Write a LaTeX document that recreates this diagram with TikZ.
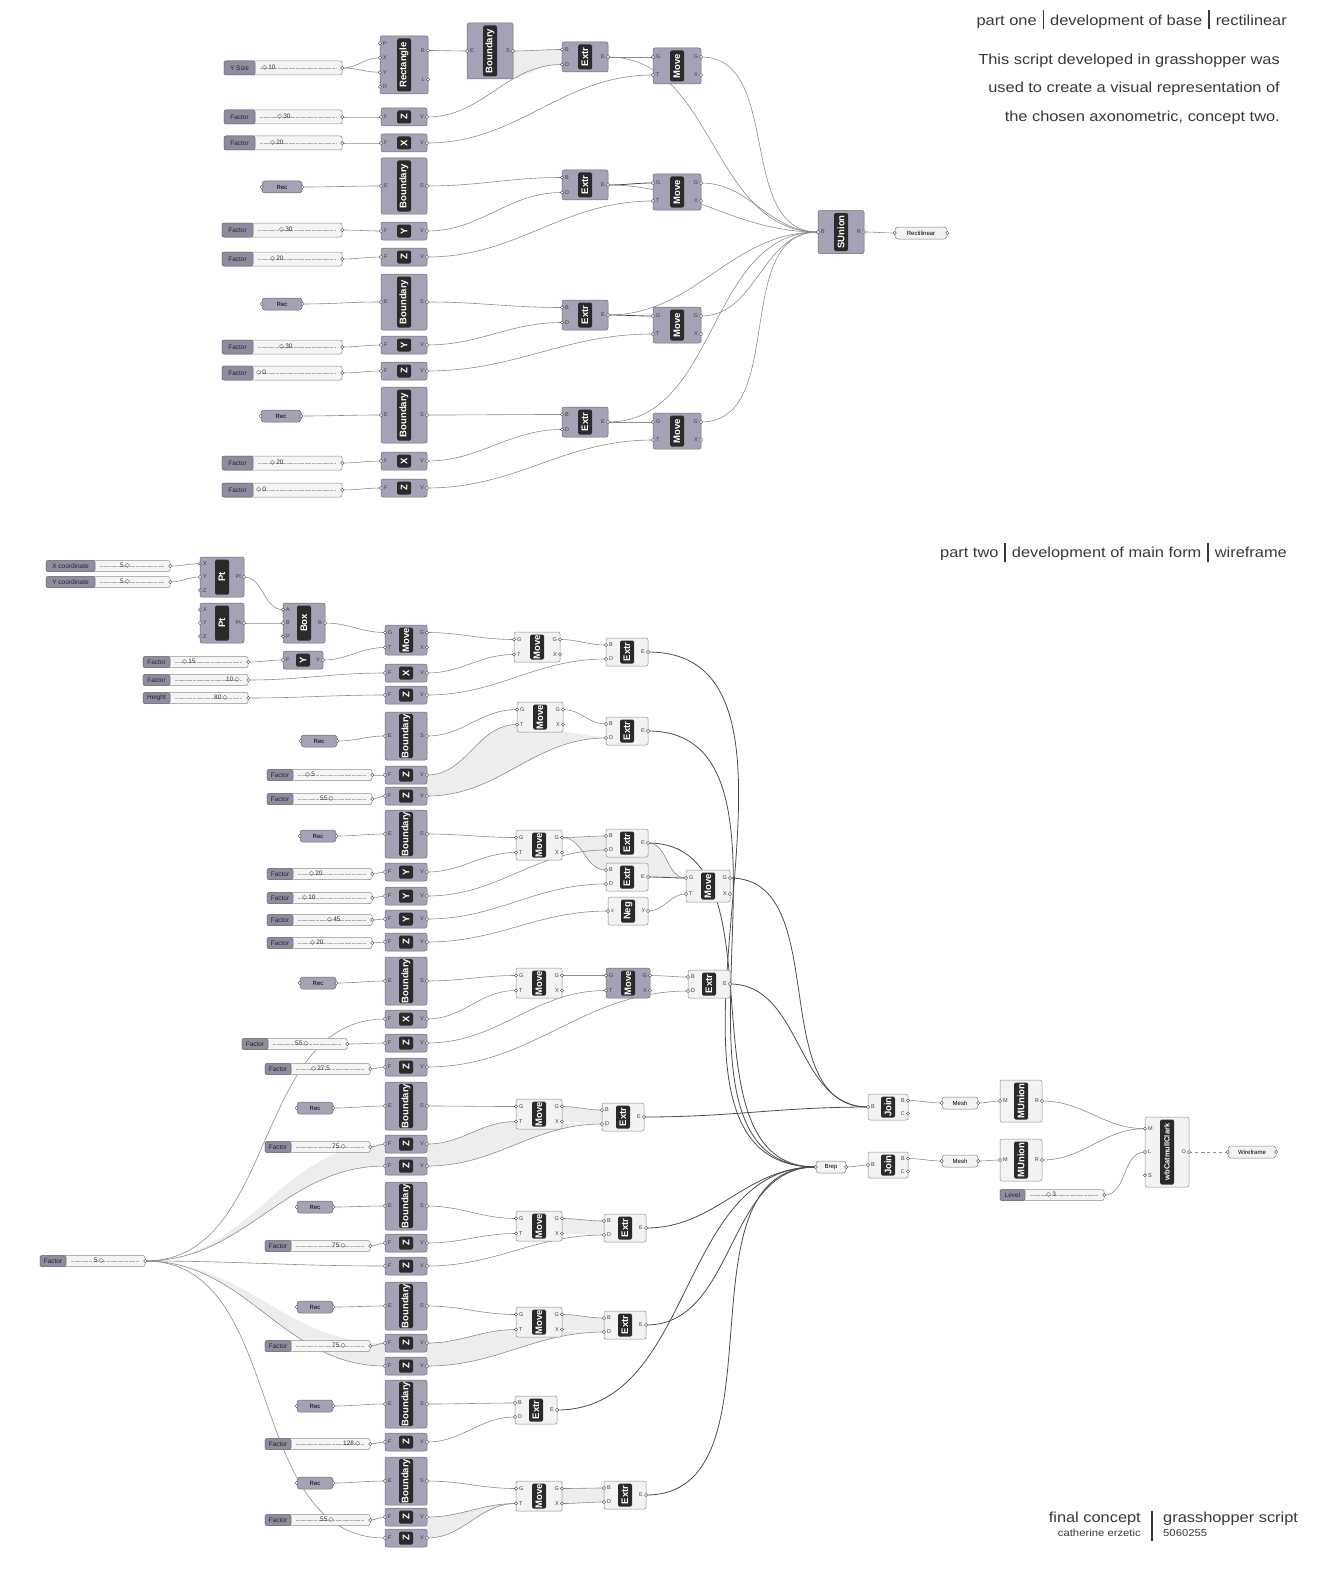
\documentclass[tikz,border=0pt]{standalone}
\usepackage{fontspec}
\setmainfont{Liberation Sans}
\newfontfamily\symfont{DejaVu Sans}
\newfontfamily\hdrfont[FakeStretch=1.13]{Liberation Sans}
\usetikzlibrary{calc}

\definecolor{ghgray}{HTML}{A4A2B4}
\definecolor{ghedge}{HTML}{6C6A78}
\definecolor{ghlbl}{HTML}{8E8C9E}
\definecolor{ghcore}{HTML}{2A2A2A}
\definecolor{ghwhite}{HTML}{F3F3F3}
\definecolor{ghwire}{HTML}{8C8C8C}
\definecolor{hdrtext}{HTML}{383838}

\pgfdeclarelayer{bg}
\pgfsetlayers{bg,main}

\newcommand{\dm}{{\symfont\char"25C7}}
\newcommand{\vbar}{\rule[-4pt]{1.5pt}{19pt}}

% component: [style]{name}{x}{y}{w}{h}{label}{inputs}{outputs}
\newcommand{\ghcomp}[9][body]{%
  \node[#1, minimum width=#5, minimum height=#6] (#2) at (#3,#4) {};
  \node[core, minimum height=#6-5] at (#2.center) {\rotatebox{90}{#7}};
  \foreach \p [count=\k] in {#8} {\xdef\ghn{\k}}
  \foreach \p [count=\k] in {#8} {
    \pgfmathsetmacro{\py}{#4-#6/2+(\k-0.5)*#6/\ghn}
    \coordinate (#2-i\k) at ({#3-#5/2},\py);
    \node[pletter, anchor=west] at ({#3-#5/2+3},\py) {\p};
    \node[port] at (#2-i\k) {};
  }
  \foreach \p [count=\k] in {#9} {\xdef\ghn{\k}}
  \foreach \p [count=\k] in {#9} {
    \pgfmathsetmacro{\py}{#4-#6/2+(\k-0.5)*#6/\ghn}
    \coordinate (#2-o\k) at ({#3+#5/2},\py);
    \node[pletter, anchor=east] at ({#3+#5/2-3},\py) {\p};
    \node[port] at (#2-o\k) {};
  }
}

% slider: {name}{x left}{x right}{y}{label}{x label end}{x value}{value}{height}
\newcommand{\ghslider}[9]{%
  \node[sliderbox, minimum width=#3-#2, minimum height=#9] (#1) at ({(#2+#3)/2},#4) {};
  \node[sliderlbl, minimum width=#6-#2, minimum height=#9, anchor=west] at (#1.west) {#5};
  \draw[ticks] ({#6+5},#4) -- ({#3-6},#4);
  \node[sliderval, anchor=west] at (#7,#4) {#8};
  \node[port] at (#1.east) {};
}

% parameter: [style]{name}{x}{y}{w}{text}
\newcommand{\ghparam}[6][param]{%
  \node[#1, minimum width=#5] (#2) at (#3,#4) {#6};
  \node[port] at (#2.west) {};
  \node[port] at (#2.east) {};
}

\begin{document}
\begin{tikzpicture}[x=1pt, y=-1pt,
  body/.style={draw=ghedge, fill=ghgray, rounded corners=2pt, line width=0.5pt, inner sep=0},
  wbody/.style={draw=black!45, fill=ghwhite, rounded corners=2pt, line width=0.5pt, inner sep=0},
  core/.style={fill=ghcore, rounded corners=1.5pt, minimum width=14, inner sep=0,
    text=white, font=\fontsize{9.5}{9.5}\selectfont\bfseries},
  pletter/.style={font=\fontsize{5.5}{6}\selectfont, text=black!75, inner sep=0},
  port/.style={circle, draw=black!75, fill=white, inner sep=0, minimum size=3.2, line width=0.4pt},
  sliderbox/.style={draw=black!45, fill=white!96!black, rounded corners=2pt, inner sep=0, line width=0.5pt},
  sliderlbl/.style={draw=ghedge, fill=ghlbl, rounded corners=2pt, inner sep=0, line width=0.5pt,
    font=\fontsize{6.5}{7}\selectfont, text=black!85},
  sliderval/.style={inner sep=0, font=\fontsize{6.5}{7}\selectfont, text=black!80},
  ticks/.style={draw=black!30, line width=0.3pt, dash pattern=on 3pt off 0.6pt},
  param/.style={draw=ghedge, fill=ghgray, rounded corners=3pt, minimum height=12, inner sep=0,
    font=\fontsize{6}{6}\selectfont, line width=0.5pt},
  wparam/.style={param, draw=black!50, fill=ghwhite},
  wire/.style={draw=ghwire, line width=0.6pt, out=0, in=180},
  wired/.style={wire, draw=black!70, line width=0.8pt},
  gfill/.style={fill=black!7},
  hdr/.style={inner sep=0, text=hdrtext, font=\hdrfont\fontsize{14.5}{16}\selectfont}
]
\useasboundingbox (0,0) rectangle (1323,1573);

% headers
\node[hdr, anchor=east] (hone) at (1287,20) {part one\hspace{6pt}\vbar\hspace{6pt}development of base\hspace{6pt}\vbar\hspace{6pt}rectilinear};
\node[hdr, anchor=east, align=right, font=\hdrfont\fontsize{14.5}{28.5}\selectfont] (intro) at (1280,89)
  {This script developed in grasshopper was\\used to create a visual representation of\\the chosen axonometric, concept two.};
\node[hdr, anchor=east] (htwo) at (1287,552) {part two\hspace{6pt}\vbar\hspace{6pt}development of main form\hspace{6pt}\vbar\hspace{6pt}wireframe};
\node[hdr, anchor=east] (fin) at (1141,1519) {final concept};
\node[hdr, anchor=east, font=\hdrfont\fontsize{10}{10}\selectfont] (auth) at (1141,1533) {catherine erzetic};
\draw[hdrtext, line width=1.2pt] (1152,1511) -- (1152,1541);
\node[hdr, anchor=west] (ghs) at (1163,1519) {grasshopper script};
\node[hdr, anchor=west, font=\hdrfont\fontsize{10}{10}\selectfont] (sid) at (1163,1533) {5060255};

% ---------------- part one ----------------
\ghslider{ysize}{224}{342}{68}{Y Size}{255}{262}{\dm\,10}{14}
\ghslider{fa1}{224}{342}{117}{Factor}{255}{277}{\dm\,30}{14}
\ghslider{fa2}{224}{342}{143}{Factor}{255}{270}{\dm\,20}{14}
\ghslider{fa3}{222}{342}{230}{Factor}{253}{279}{\dm\,30}{14}
\ghslider{fa4}{222}{342}{259}{Factor}{253}{270}{\dm\,20}{14}
\ghslider{fa5}{222}{342}{347}{Factor}{253}{279}{\dm\,30}{14}
\ghslider{fa6}{222}{342}{373}{Factor}{253}{256}{\dm\,0}{14}
\ghslider{fa7}{222}{342}{463}{Factor}{253}{270}{\dm\,20}{14}
\ghslider{fa8}{222}{342}{490}{Factor}{253}{256}{\dm\,0}{14}

\ghparam{rec1}{282}{187}{40}{Rec}
\ghparam{rec2}{282}{304}{40}{Rec}
\ghparam{rec3}{281}{416}{40}{Rec}

\ghcomp{rect}{404}{65}{48}{58}{Rectangle}{P,X,Y,R}{R,L}
\ghcomp{bnd0}{490}{51}{46}{56}{Boundary}{E}{S}
\ghcomp{za}{404}{117}{46}{18}{Z}{F}{V}
\ghcomp{xa}{404}{143}{46}{18}{X}{F}{V}
\ghcomp{bnd1}{404}{186}{46}{56}{Boundary}{E}{S}
\ghcomp{yb}{404}{231}{46}{18}{Y}{F}{V}
\ghcomp{zb}{404}{257}{46}{18}{Z}{F}{V}
\ghcomp{bnd2}{404}{302}{46}{56}{Boundary}{E}{S}
\ghcomp{yc}{404}{345}{46}{18}{Y}{F}{V}
\ghcomp{zc}{404}{371}{46}{18}{Z}{F}{V}
\ghcomp{bnd3}{404}{415}{46}{56}{Boundary}{E}{S}
\ghcomp{xd}{404}{461}{46}{18}{X}{F}{V}
\ghcomp{zd}{404}{488}{46}{18}{Z}{F}{V}

\ghcomp{ext1}{585}{57}{46}{30}{Extr}{B,D}{E}
\ghcomp{ext2}{585}{185}{46}{30}{Extr}{B,D}{E}
\ghcomp{ext3}{585}{315}{46}{30}{Extr}{B,D}{E}
\ghcomp{ext4}{585}{422}{46}{30}{Extr}{B,D}{E}
\ghcomp{mv1}{677}{66}{48}{36}{Move}{G,T}{G,X}
\ghcomp{mv2}{677}{192}{48}{36}{Move}{G,T}{G,X}
\ghcomp{mv3}{677}{325}{48}{36}{Move}{G,T}{G,X}
\ghcomp{mv4}{677}{431}{48}{36}{Move}{G,T}{G,X}
\ghcomp{sun}{841}{232}{46}{43}{SUnion}{B}{R}
\ghparam[wparam]{rlin}{921}{233}{52}{Rectilinear}

\begin{pgfonlayer}{bg}
\fill[gfill] (bnd0-o1) to[out=0,in=180] (ext1-i1) -- (ext1-i2)
  .. controls (545,64) and (530,74) .. (bnd0.south east) -- cycle;
\draw[wire] (ysize.east) to (rect-i2);
\draw[wire] (ysize.east) to (rect-i3);
\draw[wire] (rect-o1) to (bnd0-i1);
\draw[wire] (bnd0-o1) to (ext1-i1);
\draw[wire] (fa1.east) to (za-i1);
\draw[wire] (fa2.east) to (xa-i1);
\draw[wire] (za-o1) to (ext1-i2);
\draw[wire] (xa-o1) to (mv1-i2);
\draw[wired] (ext1-o1) to (mv1-i1);
\draw[wire] (rec1.east) to (bnd1-i1);
\draw[wire] (bnd1-o1) to (ext2-i1);
\draw[wire] (fa3.east) to (yb-i1);
\draw[wire] (fa4.east) to (zb-i1);
\draw[wire] (yb-o1) to (ext2-i2);
\draw[wire] (zb-o1) to (mv2-i2);
\draw[wired] (ext2-o1) to (mv2-i1);
\draw[wire] (rec2.east) to (bnd2-i1);
\draw[wire] (bnd2-o1) to (ext3-i1);
\draw[wire] (fa5.east) to (yc-i1);
\draw[wire] (fa6.east) to (zc-i1);
\draw[wire] (yc-o1) to (ext3-i2);
\draw[wire] (zc-o1) to (mv3-i2);
\draw[wired] (ext3-o1) to (mv3-i1);
\draw[wire] (rec3.east) to (bnd3-i1);
\draw[wire] (bnd3-o1) to (ext4-i1);
\draw[wire] (fa7.east) to (xd-i1);
\draw[wire] (fa8.east) to (zd-i1);
\draw[wire] (xd-o1) to (ext4-i2);
\draw[wire] (zd-o1) to (mv4-i2);
\draw[wired] (ext4-o1) to (mv4-i1);
\foreach \m in {mv1,mv2,mv3,mv4,ext1,ext2,ext3,ext4}
  \draw[wire] (\m-o1) to (sun-i1);
\draw[wire] (sun-o1) to (rlin.west);
\end{pgfonlayer}

% ---------------- part two ----------------
\ghslider{xco}{46}{170}{566}{X coordinate}{95}{120}{5\,\dm}{11}
\ghslider{yco}{46}{170}{582}{Y coordinate}{95}{120}{5\,\dm}{11}
\ghslider{f15}{143}{248}{662}{Factor}{170}{182}{\dm\,15}{11}
\ghslider{f10}{143}{248}{680}{Factor}{170}{226}{10\,\dm}{11}
\ghslider{hgt}{143}{248}{698}{Height}{170}{214}{80\,\dm}{11}
\ghslider{fz1}{267}{372}{775}{Factor}{293}{305}{\dm\,5}{11}
\ghslider{fz2}{267}{372}{799}{Factor}{293}{320}{55\,\dm}{11}
\ghslider{fz3}{267}{372}{874}{Factor}{293}{309}{\dm\,20}{11}
\ghslider{fz4}{267}{372}{898}{Factor}{293}{302}{\dm\,10}{11}
\ghslider{fz5}{267}{372}{920}{Factor}{293}{327}{\dm\,45}{11}
\ghslider{fz6}{267}{372}{943}{Factor}{293}{310}{\dm\,20}{11}
\ghslider{f55a}{242}{347}{1044}{Factor}{268}{295}{55\,\dm}{11}
\ghslider{f275}{265}{370}{1069}{Factor}{291}{311}{\dm\,27.5}{11}
\ghslider{f75a}{265}{370}{1147}{Factor}{291}{332}{75\,\dm}{11}
\ghslider{f75b}{265}{370}{1246}{Factor}{291}{332}{75\,\dm}{11}
\ghslider{f5}{40}{145}{1261}{Factor}{66}{94}{5\,\dm}{11}
\ghslider{f75c}{265}{370}{1346}{Factor}{291}{332}{75\,\dm}{11}
\ghslider{f128}{265}{370}{1444}{Factor}{291}{343}{128\,\dm}{11}
\ghslider{f55b}{265}{370}{1520}{Factor}{291}{320}{55\,\dm}{11}
\ghslider{lvl}{1000}{1104}{1195}{Level}{1025}{1046}{\dm\,3}{11}

\ghparam{r1}{319}{741}{36}{Rec}
\ghparam{r2}{318}{836}{36}{Rec}
\ghparam{r3}{318}{983}{36}{Rec}
\ghparam{r4}{315}{1108}{36}{Rec}
\ghparam{r5}{315}{1207}{36}{Rec}
\ghparam{r6}{315}{1307}{36}{Rec}
\ghparam{r7}{315}{1406}{36}{Rec}
\ghparam{r8}{315}{1483}{36}{Rec}

\ghcomp{pt1}{222}{577}{44}{40}{Pt}{X,Y,Z}{Pt}
\ghcomp{pt2}{222}{623}{44}{40}{Pt}{X,Y,Z}{Pt}
\ghcomp{box}{304}{623}{42}{40}{Box}{A,B,P}{B}
\ghcomp{yy1}{303}{660}{40}{18}{Y}{F}{V}
\ghcomp{mva}{406}{640}{42}{30}{Move}{G,T}{G,X}
\ghcomp{xx1}{406}{673}{42}{18}{X}{F}{V}
\ghcomp{zz1}{406}{695}{42}{18}{Z}{F}{V}
\ghcomp{bd1}{406}{736}{42}{48}{Boundary}{E}{S}
\ghcomp{zz2}{406}{775}{42}{18}{Z}{F}{V}
\ghcomp{zz3}{406}{796}{42}{18}{Z}{F}{V}
\ghcomp{bd2}{406}{834}{42}{48}{Boundary}{E}{S}
\ghcomp{yy2}{406}{872}{42}{18}{Y}{F}{V}
\ghcomp{yy3}{406}{896}{42}{18}{Y}{F}{V}
\ghcomp{yy4}{406}{919}{42}{18}{Y}{F}{V}
\ghcomp{zz4}{406}{942}{42}{18}{Z}{F}{V}
\ghcomp{bd3}{406}{981}{42}{48}{Boundary}{E}{S}
\ghcomp{xx2}{406}{1019}{42}{18}{X}{F}{V}
\ghcomp{zz5}{406}{1043}{42}{18}{Z}{F}{V}
\ghcomp{zz6}{406}{1067}{42}{18}{Z}{F}{V}
\ghcomp{bd4}{406}{1106}{42}{48}{Boundary}{E}{S}
\ghcomp{zz7}{406}{1144}{42}{18}{Z}{F}{V}
\ghcomp{zz8}{406}{1166}{42}{18}{Z}{F}{V}
\ghcomp{bd5}{406}{1206}{42}{48}{Boundary}{E}{S}
\ghcomp{zz9}{406}{1243}{42}{18}{Z}{F}{V}
\ghcomp{zz10}{406}{1266}{42}{18}{Z}{F}{V}
\ghcomp{bd6}{406}{1306}{42}{48}{Boundary}{E}{S}
\ghcomp{zz11}{406}{1343}{42}{18}{Z}{F}{V}
\ghcomp{zz12}{406}{1366}{42}{18}{Z}{F}{V}
\ghcomp{bd7}{406}{1404}{42}{48}{Boundary}{E}{S}
\ghcomp{zz13}{406}{1442}{42}{18}{Z}{F}{V}
\ghcomp{bd8}{406}{1481}{42}{48}{Boundary}{E}{S}
\ghcomp{zz14}{406}{1517}{42}{18}{Z}{F}{V}
\ghcomp{zz15}{406}{1538}{42}{18}{Z}{F}{V}

\ghcomp[wbody]{mw1}{537}{647}{46}{30}{Move}{G,T}{G,X}
\ghcomp[wbody]{ew1}{627}{652}{42}{28}{Extr}{B,D}{E}
\ghcomp[wbody]{mw2}{540}{717}{46}{30}{Move}{G,T}{G,X}
\ghcomp[wbody]{ew2}{627}{731}{42}{28}{Extr}{B,D}{E}
\ghcomp[wbody]{mw3}{539}{845}{46}{30}{Move}{G,T}{G,X}
\ghcomp[wbody]{ew3}{627}{843}{42}{28}{Extr}{B,D}{E}
\ghcomp[wbody]{ew4}{627}{877}{42}{28}{Extr}{B,D}{E}
\ghcomp[wbody]{neg}{628}{911}{40}{28}{Neg}{x}{y}
\ghcomp[wbody]{mw4}{708}{886}{44}{32}{Move}{G,T}{G,X}
\ghcomp[wbody]{mw5}{539}{983}{46}{30}{Move}{G,T}{G,X}
\ghcomp{mg6}{628}{983}{44}{30}{Move}{G,T}{G,X}
\ghcomp[wbody]{ew5}{709}{984}{42}{28}{Extr}{B,D}{E}
\ghcomp[wbody]{mw7}{539}{1114}{46}{30}{Move}{G,T}{G,X}
\ghcomp[wbody]{ew6}{623}{1117}{42}{28}{Extr}{B,D}{E}
\ghcomp[wbody]{mw8}{539}{1226}{46}{30}{Move}{G,T}{G,X}
\ghcomp[wbody]{ew7}{625}{1228}{42}{28}{Extr}{B,D}{E}
\ghcomp[wbody]{mw9}{539}{1322}{46}{30}{Move}{G,T}{G,X}
\ghcomp[wbody]{ew8}{625}{1325}{42}{28}{Extr}{B,D}{E}
\ghcomp[wbody]{ew9}{536}{1410}{42}{28}{Extr}{B,D}{E}
\ghcomp[wbody]{mw10}{539}{1496}{46}{30}{Move}{G,T}{G,X}
\ghcomp[wbody]{ew10}{625}{1495}{42}{28}{Extr}{B,D}{E}

\ghparam[wparam]{brep}{831}{1167}{30}{Brep}
\ghcomp[wbody]{join1}{888}{1107}{40}{26}{Join}{B}{B,C}
\ghcomp[wbody]{join2}{888}{1165}{40}{26}{Join}{B}{B,C}
\ghparam[wparam]{mesh1}{960}{1103}{36}{Mesh}
\ghparam[wparam]{mesh2}{960}{1161}{36}{Mesh}
\ghcomp[wbody]{mun1}{1021}{1101}{42}{42}{MUnion}{M}{R}
\ghcomp[wbody]{mun2}{1021}{1160}{42}{42}{MUnion}{M}{R}
\ghcomp[wbody]{wbc}{1167}{1152}{44}{70}{\fontsize{7.5}{7.5}\selectfont wbCatmullClark}{M,L,S}{O}
\ghparam[wparam]{wfr}{1252}{1152}{48}{Wireframe}

\begin{pgfonlayer}{bg}
% shaded wire bundles
\fill[gfill] (zz2-o1) to[out=0,in=180] (mw2-i2) -- (ew2-i2) to[out=180,in=0] (zz3-o1) -- cycle;
\fill[gfill] (mw3-o1) -- (ew3-i1) -- (ew3-o1) to[out=0,in=180] (mw4-i1) -- (ew4-o1) -- (ew4-i1)
  to[out=180,in=0] (mw3-o1) -- cycle;
\fill[gfill] (f5.east) to[out=0,in=180] (zz7-i1) -- (zz8-i1) to[out=180,in=0] (f5.east) -- cycle;
\fill[gfill] (f5.east) to[out=0,in=180] (zz11-i1) -- (zz12-i1) to[out=180,in=0] (f5.east) -- cycle;
\fill[gfill] (zz7-o1) to[out=0,in=180] (mw7-i2) -- (ew6-i2) to[out=180,in=0] (zz8-o1) -- cycle;
\fill[gfill] (zz11-o1) to[out=0,in=180] (mw9-i2) -- (ew8-i2) to[out=180,in=0] (zz12-o1) -- cycle;
\fill[gfill] (zz14-o1) to[out=0,in=180] (mw10-i2) to[out=180,in=0] (zz15-o1) -- cycle;
\foreach \m/\e in {mw7/ew6,mw8/ew7,mw9/ew8,mw10/ew10}
  \fill[gfill] (\m-o1) to[out=0,in=180] (\e-i1) -- (\e-i2) to[out=180,in=0] (\m-o2) -- cycle;
% wires
\draw[wire] (xco.east) to (pt1-i1);
\draw[wire] (yco.east) to (pt1-i2);
\draw[wire] (pt1-o1) to (box-i1);
\draw[wire] (pt2-o1) to (box-i2);
\draw[wire] (box-o1) to (mva-i1);
\draw[wire] (f15.east) to (yy1-i1);
\draw[wire] (yy1-o1) to (mva-i2);
\draw[wire] (f10.east) to (xx1-i1);
\draw[wire] (hgt.east) to (zz1-i1);
\draw[wire] (mva-o1) to (mw1-i1);
\draw[wire] (xx1-o1) to (mw1-i2);
\draw[wire] (mw1-o1) to (ew1-i1);
\draw[wire] (zz1-o1) to (ew1-i2);
% block two
\draw[wire] (r1.east) to (bd1-i1);
\draw[wire] (bd1-o1) to (mw2-i1);
\draw[wire] (fz1.east) to (zz2-i1);
\draw[wire] (fz2.east) to (zz3-i1);
\draw[wire] (zz2-o1) to (mw2-i2);
\draw[wire] (zz3-o1) to (ew2-i2);
\draw[wire] (mw2-o1) to (ew2-i1);
% block three
\draw[wire] (r2.east) to (bd2-i1);
\draw[wire] (bd2-o1) to (mw3-i1);
\draw[wire] (fz3.east) to (yy2-i1);
\draw[wire] (fz4.east) to (yy3-i1);
\draw[wire] (fz5.east) to (yy4-i1);
\draw[wire] (fz6.east) to (zz4-i1);
\draw[wire] (yy2-o1) to (mw3-i2);
\draw[wire] (mw3-o1) to (ew3-i1);
\draw[wire] (mw3-o1) to (ew4-i1);
\draw[wire] (yy3-o1) to (ew3-i2);
\draw[wire] (yy4-o1) to (ew4-i2);
\draw[wire] (zz4-o1) to (neg-i1);
\draw[wire] (ew3-o1) to (mw4-i1);
\draw[wired] (ew4-o1) to (mw4-i1);
\draw[wire] (neg-o1) to (mw4-i2);
% block four
\draw[wire] (r3.east) to (bd3-i1);
\draw[wire] (bd3-o1) to (mw5-i1);
\draw[wire] (f5.east) to (xx2-i1);
\draw[wire] (f55a.east) to (zz5-i1);
\draw[wire] (f275.east) to (zz6-i1);
\draw[wire] (xx2-o1) to (mw5-i2);
\draw[wire] (mw5-o1) to (mg6-i1);
\draw[wire] (zz5-o1) to (mg6-i2);
\draw[wire] (mg6-o1) to (ew5-i1);
\draw[wire] (zz6-o1) to (ew5-i2);
% blocks five to nine
\draw[wire] (r4.east) to (bd4-i1);
\draw[wire] (bd4-o1) to (mw7-i1);
\draw[wire] (f75a.east) to (zz7-i1);
\draw[wire] (zz7-o1) to (mw7-i2);
\draw[wire] (mw7-o1) to (ew6-i1);
\draw[wire] (zz8-o1) to (ew6-i2);
\draw[wire] (r5.east) to (bd5-i1);
\draw[wire] (bd5-o1) to (mw8-i1);
\draw[wire] (f75b.east) to (zz9-i1);
\draw[wire] (zz9-o1) to (mw8-i2);
\draw[wire] (mw8-o1) to (ew7-i1);
\draw[wire] (zz10-o1) to (ew7-i2);
\draw[wire] (r6.east) to (bd6-i1);
\draw[wire] (bd6-o1) to (mw9-i1);
\draw[wire] (f75c.east) to (zz11-i1);
\draw[wire] (zz11-o1) to (mw9-i2);
\draw[wire] (mw9-o1) to (ew8-i1);
\draw[wire] (zz12-o1) to (ew8-i2);
\draw[wire] (r7.east) to (bd7-i1);
\draw[wire] (bd7-o1) to (ew9-i1);
\draw[wire] (f128.east) to (zz13-i1);
\draw[wire] (zz13-o1) to (ew9-i2);
\draw[wire] (r8.east) to (bd8-i1);
\draw[wire] (bd8-o1) to (mw10-i1);
\draw[wire] (f55b.east) to (zz14-i1);
\draw[wire] (zz14-o1) to (mw10-i2);
\draw[wire] (zz15-o1) to (mw10-i2);
\draw[wire] (mw10-o1) to (ew10-i1);
\draw[wire] (mw10-o2) to (ew10-i2);
\foreach \z in {zz8,zz10,zz12,zz15}
  \draw[wire] (f5.east) to (\z-i1);
% collecting breps
\foreach \e in {ew1,ew2,ew3,ew7,ew8,ew9,ew10}
  \draw[wired] (\e-o1) to (brep.west);
\foreach \e in {mw4,ew5,ew6}
  \draw[wired] (\e-o1) to (join1-i1);
\draw[wire] (brep.east) to (join2-i1);
\draw[wire] (join1-o1) to (mesh1.west);
\draw[wire] (join2-o1) to (mesh2.west);
\draw[wire] (mesh1.east) to (mun1-i1);
\draw[wire] (mesh2.east) to (mun2-i1);
\draw[wire] (mun1-o1) to (wbc-i1);
\draw[wire] (mun2-o1) to (wbc-i1);
\draw[wire] (lvl.east) to (wbc-i2);
\draw[wire, dashed] (wbc-o1) to (wfr.west);
\end{pgfonlayer}
\end{tikzpicture}
\end{document}
